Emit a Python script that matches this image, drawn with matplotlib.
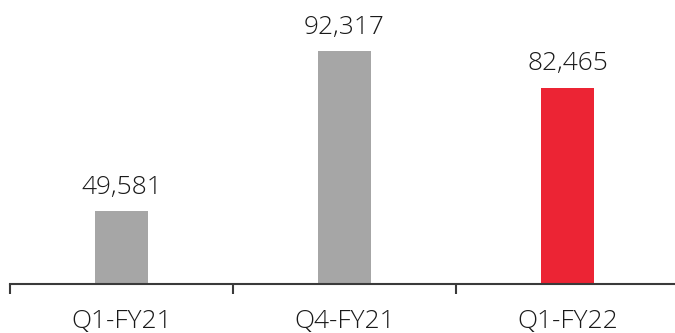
import matplotlib
matplotlib.use("Agg")
import matplotlib.pyplot as plt
from matplotlib.ticker import FixedLocator

categories = ["Q1-FY21", "Q4-FY21", "Q1-FY22"]
values = [49581, 92317, 82465]
colors = ["#A6A6A6", "#A6A6A6", "#EC2434"]

plt.rcParams["font.family"] = ["Open Sans", "DejaVu Sans"]

W, H = 675, 333
fig = plt.figure(figsize=(W / 100, H / 100), dpi=100)
ax = fig.add_axes([10 / W, 49 / H, 1 - 10 / W, 1 - 49 / H])

x = list(range(len(categories)))
ax.bar(x, values, width=0.235, color=colors)

ax.set_xlim(-0.5, (W - 10) / 223 - 0.5)
ax.set_ylim(30000, 105850)

for xi, v in zip(x, values):
    ax.annotate(f"{v:,}", (xi, v), xytext=(0, 8), textcoords="offset points",
                ha="center", va="bottom", fontsize=19, color="#1a1a1a",
                fontweight="light")

for s in ["top", "right", "left"]:
    ax.spines[s].set_visible(False)
ax.spines["bottom"].set_color("#3a3a3a")
ax.spines["bottom"].set_linewidth(1.5)
ax.set_yticks([])

ax.set_xticks(x)
ax.set_xticklabels(categories, fontsize=19, color="#1a1a1a", fontweight="light")
ax.tick_params(axis="x", which="major", length=0, pad=18)
ax.xaxis.set_minor_locator(FixedLocator([-0.5, 0.5, 1.5, 2.5]))
ax.tick_params(axis="x", which="minor", length=7, width=1.5, color="#3a3a3a")

fig.savefig("out.png", dpi=100)
